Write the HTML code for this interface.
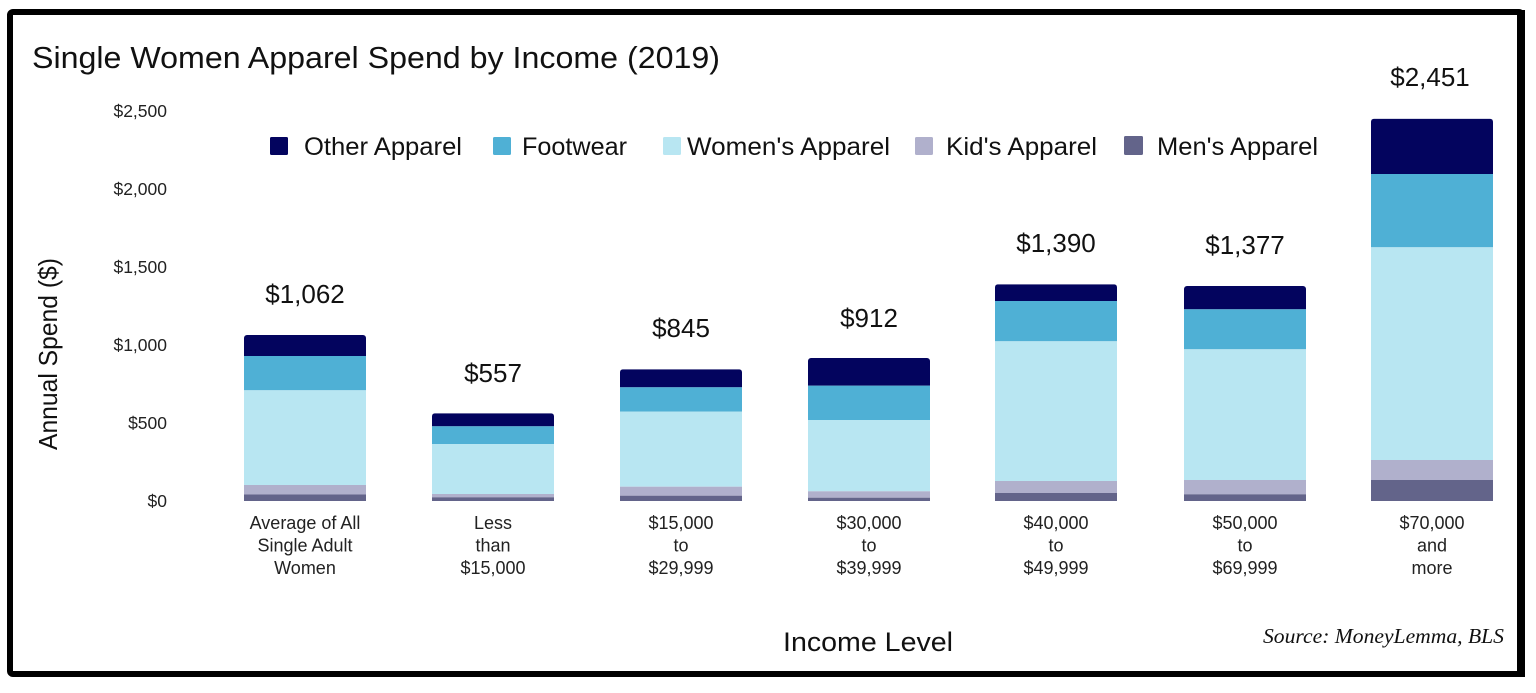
<!DOCTYPE html>
<html>
<head>
<meta charset="utf-8">
<style>
  html,body{margin:0;padding:0;background:#fff;}
  body{width:1536px;height:693px;overflow:hidden;position:relative;}
  svg{position:absolute;left:0;top:0;}
  text{font-family:"Liberation Sans",Arial,sans-serif;}
</style>
</head>
<body>
<svg width="1536" height="693" viewBox="0 0 1536 693" xmlns="http://www.w3.org/2000/svg">
  <rect x="0" y="0" width="1536" height="693" fill="#fff"/>
  <!-- frame -->
  <rect x="10" y="12" width="1512" height="662" rx="3" ry="3" fill="#fff" stroke="#000" stroke-width="6"/>
  <rect x="1517" y="10" width="8" height="667" fill="#000"/>

  <!-- title -->
  <text x="32" y="68" font-size="31" fill="#111" textLength="688" lengthAdjust="spacingAndGlyphs">Single Women Apparel Spend by Income (2019)</text>

  <!-- y tick labels -->
  <g font-size="17.5" fill="#222" text-anchor="end">
    <text x="167" y="507">$0</text>
    <text x="167" y="429">$500</text>
    <text x="167" y="351">$1,000</text>
    <text x="167" y="273">$1,500</text>
    <text x="167" y="195">$2,000</text>
    <text x="167" y="117">$2,500</text>
  </g>

  <!-- y axis title -->
  <text transform="translate(57,354) rotate(-90)" font-size="26" fill="#111" text-anchor="middle" textLength="192" lengthAdjust="spacingAndGlyphs">Annual Spend ($)</text>

  <!-- legend -->
  <g font-size="25" fill="#111">
    <rect x="270" y="137" width="18" height="18" rx="1.5" fill="#03045e"/>
    <text x="304" y="155" textLength="158" lengthAdjust="spacingAndGlyphs">Other Apparel</text>
    <rect x="493" y="137" width="18" height="18" rx="1.5" fill="#4fb0d5"/>
    <text x="522" y="155" textLength="105" lengthAdjust="spacingAndGlyphs">Footwear</text>
    <rect x="663" y="137" width="18" height="18" rx="1.5" fill="#b8e6f2"/>
    <text x="687" y="155" textLength="203" lengthAdjust="spacingAndGlyphs">Women's Apparel</text>
    <rect x="915" y="137" width="18" height="18" rx="1.5" fill="#b0b0cc"/>
    <text x="946" y="155" textLength="151" lengthAdjust="spacingAndGlyphs">Kid's Apparel</text>
    <rect x="1124" y="136" width="19" height="19" rx="1.5" fill="#63648a"/>
    <text x="1157" y="155" textLength="161" lengthAdjust="spacingAndGlyphs">Men's Apparel</text>
  </g>

  <defs>
    <clipPath id="c1"><rect x="244" y="335" width="122" height="180" rx="3"/></clipPath>
    <clipPath id="c2"><rect x="432" y="413.3" width="122" height="100" rx="3"/></clipPath>
    <clipPath id="c3"><rect x="620" y="369.3" width="122" height="140" rx="3"/></clipPath>
    <clipPath id="c4"><rect x="808" y="358" width="122" height="150" rx="3"/></clipPath>
    <clipPath id="c5"><rect x="995" y="284.3" width="122" height="230" rx="3"/></clipPath>
    <clipPath id="c6"><rect x="1184" y="286" width="122" height="230" rx="3"/></clipPath>
    <clipPath id="c7"><rect x="1371" y="118.7" width="122" height="390" rx="3"/></clipPath>
  </defs>

  <!-- bars -->
  <g clip-path="url(#c1)">
    <rect x="244" y="335" width="122" height="21" fill="#03045e"/>
    <rect x="244" y="356" width="122" height="34.3" fill="#4fb0d5"/>
    <rect x="244" y="390.3" width="122" height="94.7" fill="#b8e6f2"/>
    <rect x="244" y="485" width="122" height="9.5" fill="#b0b0cc"/>
    <rect x="244" y="494.5" width="122" height="6.5" fill="#63648a"/>
  </g>
  <g clip-path="url(#c2)">
    <rect x="432" y="413.3" width="122" height="13" fill="#03045e"/>
    <rect x="432" y="426.3" width="122" height="17.7" fill="#4fb0d5"/>
    <rect x="432" y="444" width="122" height="50" fill="#b8e6f2"/>
    <rect x="432" y="494" width="122" height="3.3" fill="#b0b0cc"/>
    <rect x="432" y="497.3" width="122" height="3.7" fill="#63648a"/>
  </g>
  <g clip-path="url(#c3)">
    <rect x="620" y="369.3" width="122" height="18" fill="#03045e"/>
    <rect x="620" y="387.3" width="122" height="24.4" fill="#4fb0d5"/>
    <rect x="620" y="411.7" width="122" height="75" fill="#b8e6f2"/>
    <rect x="620" y="486.7" width="122" height="9" fill="#b0b0cc"/>
    <rect x="620" y="495.7" width="122" height="5.3" fill="#63648a"/>
  </g>
  <g clip-path="url(#c4)">
    <rect x="808" y="358" width="122" height="27.7" fill="#03045e"/>
    <rect x="808" y="385.7" width="122" height="34.3" fill="#4fb0d5"/>
    <rect x="808" y="420" width="122" height="71.3" fill="#b8e6f2"/>
    <rect x="808" y="491.3" width="122" height="6.4" fill="#b0b0cc"/>
    <rect x="808" y="497.7" width="122" height="3.3" fill="#63648a"/>
  </g>
  <g clip-path="url(#c5)">
    <rect x="995" y="284.3" width="122" height="16.7" fill="#03045e"/>
    <rect x="995" y="301" width="122" height="40.3" fill="#4fb0d5"/>
    <rect x="995" y="341.3" width="122" height="139.7" fill="#b8e6f2"/>
    <rect x="995" y="481" width="122" height="12" fill="#b0b0cc"/>
    <rect x="995" y="493" width="122" height="8" fill="#63648a"/>
  </g>
  <g clip-path="url(#c6)">
    <rect x="1184" y="286" width="122" height="23.3" fill="#03045e"/>
    <rect x="1184" y="309.3" width="122" height="40" fill="#4fb0d5"/>
    <rect x="1184" y="349.3" width="122" height="130.7" fill="#b8e6f2"/>
    <rect x="1184" y="480" width="122" height="14.3" fill="#b0b0cc"/>
    <rect x="1184" y="494.3" width="122" height="6.7" fill="#63648a"/>
  </g>
  <g clip-path="url(#c7)">
    <rect x="1371" y="118.7" width="122" height="55.3" fill="#03045e"/>
    <rect x="1371" y="174" width="122" height="73.3" fill="#4fb0d5"/>
    <rect x="1371" y="247.3" width="122" height="212.7" fill="#b8e6f2"/>
    <rect x="1371" y="460" width="122" height="20" fill="#b0b0cc"/>
    <rect x="1371" y="480" width="122" height="21" fill="#63648a"/>
  </g>

  <!-- value labels -->
  <g font-size="26" fill="#111" text-anchor="middle">
    <text x="305" y="303">$1,062</text>
    <text x="493" y="382">$557</text>
    <text x="681" y="337">$845</text>
    <text x="869" y="327">$912</text>
    <text x="1056" y="252">$1,390</text>
    <text x="1245" y="254">$1,377</text>
    <text x="1430" y="86">$2,451</text>
  </g>

  <!-- x category labels -->
  <g font-size="18" fill="#222" text-anchor="middle">
    <text x="305" y="529">Average of All</text>
    <text x="305" y="551.5">Single Adult</text>
    <text x="305" y="574">Women</text>

    <text x="493" y="529">Less</text>
    <text x="493" y="551.5">than</text>
    <text x="493" y="574">$15,000</text>

    <text x="681" y="529">$15,000</text>
    <text x="681" y="551.5">to</text>
    <text x="681" y="574">$29,999</text>

    <text x="869" y="529">$30,000</text>
    <text x="869" y="551.5">to</text>
    <text x="869" y="574">$39,999</text>

    <text x="1056" y="529">$40,000</text>
    <text x="1056" y="551.5">to</text>
    <text x="1056" y="574">$49,999</text>

    <text x="1245" y="529">$50,000</text>
    <text x="1245" y="551.5">to</text>
    <text x="1245" y="574">$69,999</text>

    <text x="1432" y="529">$70,000</text>
    <text x="1432" y="551.5">and</text>
    <text x="1432" y="574">more</text>
  </g>

  <!-- x axis title -->
  <text x="868" y="651" font-size="27" fill="#111" text-anchor="middle" textLength="170" lengthAdjust="spacingAndGlyphs">Income Level</text>

  <!-- source -->
  <text x="1263" y="643" font-style="italic" font-size="21" fill="#111" textLength="241" lengthAdjust="spacingAndGlyphs" style="font-family:'Liberation Serif',serif;">Source: MoneyLemma, BLS</text>
</svg>
</body>
</html>
